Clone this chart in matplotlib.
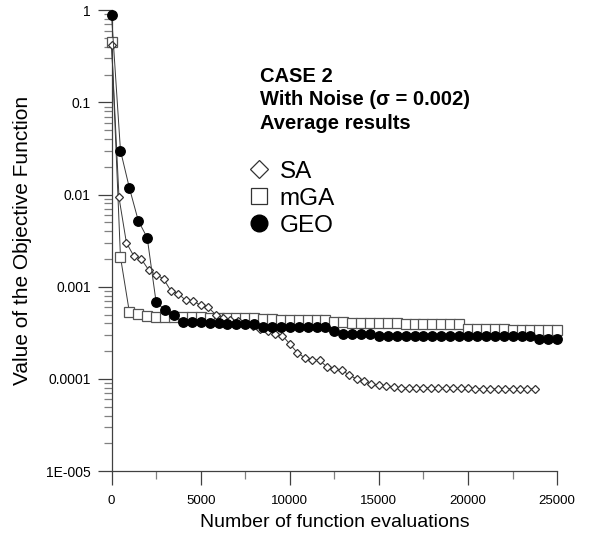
import matplotlib.pyplot as plt
from matplotlib.lines import Line2D
from matplotlib.ticker import LogLocator, FixedLocator, NullFormatter

plt.rcParams['font.family'] = ['Liberation Sans', 'DejaVu Sans']

# number of function evaluations
evals_sa = [0, 417, 833, 1250, 1667, 2083, 2500, 2917, 3333, 3750, 4167, 4583, 5000, 5417,
            5833, 6250, 6667, 7083, 7500, 7917, 8333, 8750, 9167, 9583, 10000, 10417, 10833,
            11250, 11667, 12083, 12500, 12917, 13333, 13750, 14167, 14583, 15000, 15417,
            15833, 16250, 16667, 17083, 17500, 17917, 18333, 18750, 19167, 19583, 20000,
            20417, 20833, 21250, 21667, 22083, 22500, 22917, 23333, 23750]
evals = [0, 500, 1000, 1500, 2000, 2500, 3000, 3500, 4000, 4500, 5000, 5500, 6000, 6500,
         7000, 7500, 8000, 8500, 9000, 9500, 10000, 10500, 11000, 11500, 12000, 12500,
         13000, 13500, 14000, 14500, 15000, 15500, 16000, 16500, 17000, 17500, 18000,
         18500, 19000, 19500, 20000, 20500, 21000, 21500, 22000, 22500, 23000, 23500,
         24000, 24500, 25000]

sa = [0.42, 0.0093, 0.0030, 0.00215, 0.0020, 0.00152, 0.00135, 0.00122, 0.0009, 0.00084,
      0.00071, 0.0007, 0.00063, 0.0006, 0.0005, 0.00046, 0.00044, 0.00042, 0.0004, 0.00038,
      0.00035, 0.00033, 0.00031, 0.000295, 0.00024, 0.000193, 0.00017, 0.00016, 0.00016,
      0.000135, 0.000128, 0.000125, 0.00011, 0.0001, 0.000095, 0.000088, 0.000085, 0.000084,
      0.000082, 0.00008, 0.00008, 0.00008, 0.00008, 0.00008, 0.000079, 0.000079, 0.000079,
      0.000079, 0.000079, 0.000078, 0.000078, 0.000078, 0.000078, 0.000078, 0.000078,
      0.000078, 0.000078, 0.000078]

mga = [0.45, 0.0021, 0.00053, 0.00051, 0.00048,
       0.00047, 0.00047, 0.00047, 0.00047, 0.00047, 0.00047,
       0.00046, 0.00046, 0.00046, 0.00046, 0.00046, 0.00046,
       0.00045, 0.00045, 0.00044, 0.00044, 0.00044, 0.00044, 0.00044, 0.00044,
       0.00041, 0.00041, 0.0004, 0.0004, 0.0004,
       0.0004, 0.0004, 0.0004, 0.00039, 0.00039, 0.00039, 0.00039, 0.00039, 0.00039,
       0.00039,
       0.000345, 0.000345, 0.000345, 0.000345, 0.000345, 0.00034, 0.00034, 0.00034,
       0.00034, 0.00034, 0.00034]

geo = [0.88, 0.030, 0.0118, 0.0052, 0.0034, 0.00068, 0.00056, 0.0005,
       0.000416, 0.000416, 0.000416,
       0.0004, 0.0004,
       0.00039, 0.00039, 0.00039, 0.00039,
       0.00037, 0.00037, 0.00037, 0.00037, 0.00037, 0.00037, 0.00037, 0.00037,
       0.00033,
       0.000305, 0.000305, 0.000305, 0.000305,
       0.000295, 0.000295, 0.000295, 0.000295, 0.000295, 0.000295, 0.000295, 0.000295,
       0.000295, 0.000295, 0.000295, 0.000295, 0.000295, 0.000295, 0.000295, 0.000295,
       0.000295, 0.000295,
       0.000272, 0.000272, 0.000272]

fig = plt.figure(figsize=(6.03, 5.33), dpi=100)
ax = fig.add_axes([0.185, 0.116, 0.739, 0.865])

line_col = '#3a3a3a'
ax.plot(evals, mga, '-', color=line_col, lw=0.7, marker='s', ms=7.2, mfc='white',
        mec='#555555', mew=0.9, clip_on=False, zorder=3)
ax.plot(evals_sa, sa, '-', color=line_col, lw=0.7, marker='D', ms=4.5, mfc='white',
        mec='#333333', mew=0.9, clip_on=False, zorder=4)
ax.plot(evals, geo, '-', color=line_col, lw=0.7, marker='o', ms=6.8, mfc='black',
        mec='black', clip_on=False, zorder=5)

ax.set_yscale('log')
ax.set_xlim(0, 25000)
ax.set_ylim(1e-5, 1)

ax.spines['top'].set_visible(False)
ax.spines['right'].set_visible(False)
for s in ('left', 'bottom'):
    ax.spines[s].set_color('#404040')
    ax.spines[s].set_linewidth(0.9)

ax.yaxis.set_major_locator(FixedLocator([1e-5, 1e-4, 1e-3, 1e-2, 1e-1, 1]))
ax.set_yticklabels(['1E-005', '0.0001', '0.001', '0.01', '0.1', '1'])
ax.yaxis.set_minor_locator(LogLocator(base=10, subs=range(2, 10), numticks=20))
ax.yaxis.set_minor_formatter(NullFormatter())
ax.xaxis.set_major_locator(FixedLocator([0, 5000, 10000, 15000, 20000, 25000]))
ax.xaxis.set_minor_locator(FixedLocator([2500, 7500, 12500, 17500, 22500]))

ax.tick_params(axis='both', which='major', direction='out', length=10, width=0.9,
               color='#404040', labelsize=10, pad=5)
ax.tick_params(axis='both', which='minor', direction='out', length=6, width=0.9,
               color='#808080')
ax.tick_params(axis='x', which='major', labelsize=9.5, pad=7)

ax.set_xlabel('Number of function evaluations', fontsize=14, labelpad=5)
ax.set_ylabel('Value of the Objective Function', fontsize=15, labelpad=10)

fig.text(0.431, 0.874, 'CASE 2\nWith Noise (\u03c3 = 0.002)\nAverage results',
         fontsize=14.5, fontweight='bold', va='top', ha='left', linespacing=1.28)

handles = [
    Line2D([], [], ls='none', marker='D', ms=9, mfc='white', mec='#333333', mew=0.9),
    Line2D([], [], ls='none', marker='s', ms=12, mfc='white', mec='#333333', mew=0.9),
    Line2D([], [], ls='none', marker='o', ms=12, mfc='black', mec='black'),
]
ax.legend(handles, ['SA', 'mGA', 'GEO'], loc='upper left', bbox_to_anchor=(0.287, 0.694),
          frameon=False, fontsize=17.5, handlelength=0.8, handletextpad=0.45,
          labelspacing=0.2, borderaxespad=0)

fig.savefig('out.png', dpi=100)
